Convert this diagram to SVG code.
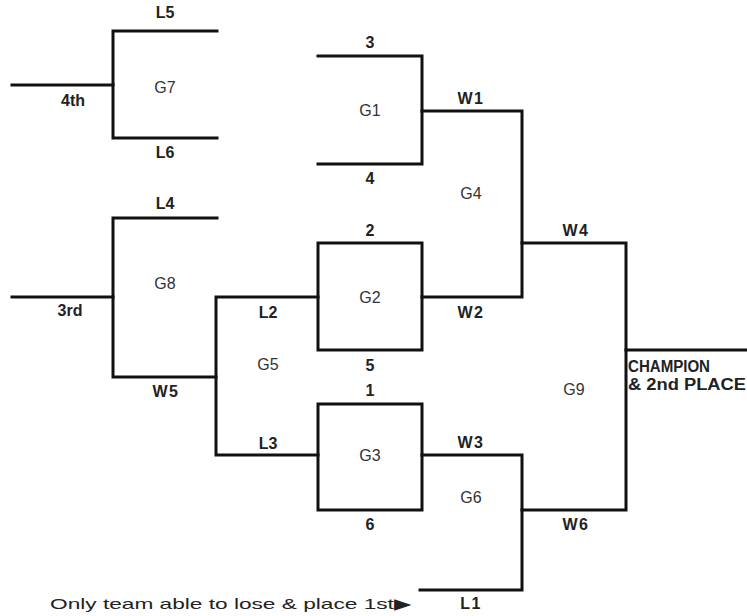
<svg xmlns="http://www.w3.org/2000/svg" width="747" height="616" viewBox="0 0 747 616">
<style>
.ln{fill:none;stroke:#111;stroke-width:3;stroke-linecap:square;stroke-linejoin:miter}
.lb{font-family:"Liberation Sans",Arial,sans-serif;font-size:16px;font-weight:bold;fill:#222;text-anchor:middle}
.w{letter-spacing:1.5px}
.g{font-family:"Liberation Sans",Arial,sans-serif;font-size:16px;fill:#333;text-anchor:middle}
.ft{font-family:"Liberation Sans",Arial,sans-serif;font-size:15px;fill:#222}
</style>
<rect width="747" height="616" fill="#fff"/>
<g id="G7">
<path class="ln" d="M217,31 H113 V138 H217"/>
<text class="g" x="165" y="93">G7</text>
<text class="lb" x="165" y="18">L5</text>
<text class="lb" x="165" y="158">L6</text>
</g>
<g id="G8">
<path class="ln" d="M217,218 H113 V377 H216"/>
<text class="g" x="165" y="289">G8</text>
<text class="lb" x="165" y="209">L4</text>
<text class="lb w" x="166" y="397">W5</text>
</g>
<g id="G5">
<path class="ln" d="M318,297 H216 V455 H318"/>
<text class="g" x="268" y="370">G5</text>
<text class="lb" x="268" y="318">L2</text>
<text class="lb" x="268" y="449">L3</text>
</g>
<g id="G1">
<path class="ln" d="M318,56 H422 V164 H318"/>
<text class="g" x="370" y="116">G1</text>
<text class="lb" x="370" y="48">3</text>
<text class="lb" x="370" y="184">4</text>
</g>
<g id="G2">
<rect class="ln" x="318" y="243" width="104" height="107"/>
<text class="g" x="370" y="303">G2</text>
<text class="lb" x="370" y="236">2</text>
<text class="lb" x="370" y="371">5</text>
</g>
<g id="G3">
<rect class="ln" x="318" y="404" width="104" height="106"/>
<text class="g" x="370" y="461">G3</text>
<text class="lb" x="370" y="396">1</text>
<text class="lb" x="370" y="530">6</text>
</g>
<g id="G4">
<path class="ln" d="M422,111 H522 V297 H422"/>
<text class="g" x="471" y="199">G4</text>
<text class="lb w" x="471" y="104">W1</text>
<text class="lb w" x="471" y="318">W2</text>
</g>
<g id="G6">
<path class="ln" d="M422,455 H522 V590 H420"/>
<text class="g" x="471" y="503">G6</text>
<text class="lb w" x="471" y="448">W3</text>
<text class="lb w" x="471" y="609">L1</text>
</g>
<g id="G9">
<path class="ln" d="M522,243 H626 V510 H522"/>
<text class="g" x="574" y="395">G9</text>
<text class="lb w" x="576" y="236">W4</text>
<text class="lb w" x="576" y="530">W6</text>
</g>
<g id="connectors">
<path class="ln" d="M12,85 H113"/>
<path class="ln" d="M12,297 H113"/>
<path class="ln" d="M626,350 H747"/>
</g>
<g id="labels">
<text class="lb" x="73" y="106">4th</text>
<text class="lb" x="70" y="316">3rd</text>
<text class="lb" x="628" y="372" style="text-anchor:start" textLength="82" lengthAdjust="spacingAndGlyphs">CHAMPION</text>
<text class="lb" x="628" y="390" style="text-anchor:start" textLength="118" lengthAdjust="spacingAndGlyphs">&amp; 2nd PLACE</text>
<text class="ft" x="50" y="609" textLength="362" lengthAdjust="spacingAndGlyphs">Only team able to lose &amp; place 1st▶</text>
</g>
</svg>
